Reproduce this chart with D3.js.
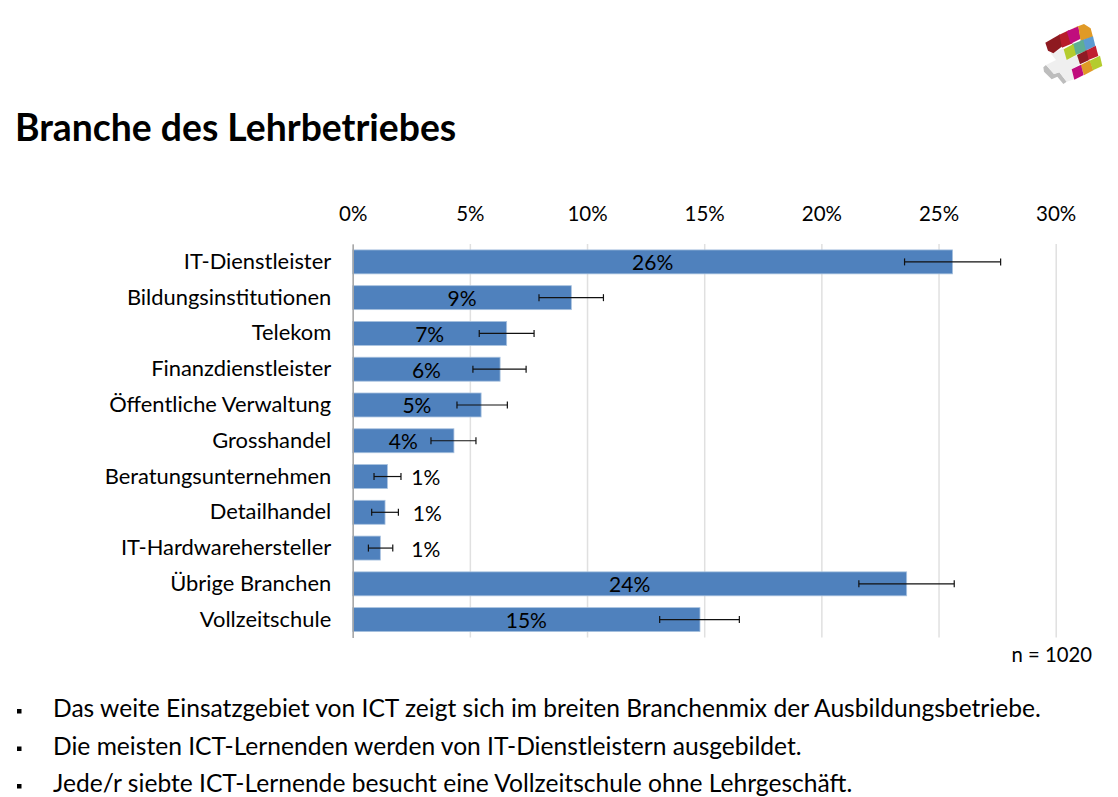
<!DOCTYPE html>
<html lang="de">

<head>
  <meta charset="UTF-8">
  <title>Branche des Lehrbetriebes</title>
  <style>
    html, body { margin: 0; padding: 0; background: #fff; }
    svg { display: block; }
    text { font-family: Lato, "Noto Sans", sans-serif; fill: #000; }
  </style>
</head>

<body>
  <div id="chart"></div>
  <script src="https://cdn.jsdelivr.net/npm/d3@7/dist/d3.min.js"></script>
  <script>
    const categories = ['IT-Dienstleister', 'Bildungsinstitutionen', 'Telekom', 'Finanzdienstleister',
      'Öffentliche Verwaltung', 'Grosshandel', 'Beratungsunternehmen', 'Detailhandel',
      'IT-Hardwarehersteller', 'Übrige Branchen', 'Vollzeitschule'];
    const shares = [25.6, 9.33, 6.57, 6.29, 5.48, 4.32, 1.48, 1.38, 1.18, 23.64, 14.82];
    const errLow = [23.55, 7.95, 5.4, 5.13, 4.45, 3.34, 0.91, 0.81, 0.67, 21.6, 13.1];
    const errHigh = [27.65, 10.7, 7.74, 7.4, 6.6, 5.26, 2.06, 1.95, 1.71, 25.67, 16.5];
    const shareLabels = ['26%', '9%', '7%', '6%', '5%', '4%', '1%', '1%', '1%', '24%', '15%'];
    // the three small bars have their label outside, value on the x axis
    const labelAt = [null, null, null, null, null, null, 3.12, 3.18, 3.12, null, null];
    const xTicks = [0, 5, 10, 15, 20, 25, 30];
    const bullets = ['Das weite Einsatzgebiet von ICT zeigt sich im breiten Branchenmix der Ausbildungsbetriebe.',
      'Die meisten ICT-Lernenden werden von IT-Dienstleistern ausgebildet.',
      'Jede/r siebte ICT-Lernende besucht eine Vollzeitschule ohne Lehrgeschäft.'];

    const svg = d3.select('#chart').append('svg').attr('width', 1118).attr('height', 797);

    const x = d3.scaleLinear().domain([0, 30]).range([352.7, 1055.7]);
    const y = d3.scaleBand().domain(categories).range([244, 637.5]).paddingInner(0.33).paddingOuter(0.165);

    // title
    svg.append('text').attr('x', 15).attr('y', 141)
      .style('font-size', '37.3px').style('font-weight', 700)
      .text('Branche des Lehrbetriebes');

    // top axis + grid
    const xAxis = svg.append('g').attr('transform', 'translate(0,244)')
      .call(d3.axisTop(x).tickValues(xTicks).tickFormat(d => d + '%').tickSize(-393.5).tickPadding(23));
    xAxis.attr('font-family', null);
    xAxis.select('.domain').remove();
    xAxis.selectAll('line').attr('stroke', '#e0e0e0').attr('stroke-width', 1.5);
    xAxis.selectAll('text').style('font-size', '20.5px');

    // bars
    svg.append('g').selectAll('rect').data(categories).join('rect')
      .attr('x', x(0))
      .attr('y', d => y(d))
      .attr('width', (d, i) => x(shares[i]) - x(0))
      .attr('height', y.bandwidth())
      .attr('fill', '#4f81bd')
      .attr('stroke', '#a9c2df')
      .attr('stroke-width', 0.8);

    // category axis on top of the bars
    const yAxis = svg.append('g').attr('transform', `translate(${x(0)},0)`)
      .call(d3.axisLeft(y).tickSize(0).tickPadding(21.5));
    yAxis.attr('font-family', null);
    yAxis.select('.domain').attr('stroke', '#a6a6a6').attr('stroke-width', 1.5);
    yAxis.selectAll('text').style('font-size', '21.9px');

    // error bars
    const err = svg.append('g').attr('stroke', '#111').attr('stroke-width', 1.2);
    categories.forEach((c, i) => {
      const cy = y(c) + y.bandwidth() / 2;
      err.append('line').attr('x1', x(errLow[i])).attr('x2', x(errHigh[i])).attr('y1', cy).attr('y2', cy);
      [errLow[i], errHigh[i]].forEach(v => {
        err.append('line').attr('x1', x(v)).attr('x2', x(v)).attr('y1', cy - 3.5).attr('y2', cy + 3.5);
      });
    });

    // value labels
    svg.append('g').selectAll('text').data(categories).join('text')
      .attr('text-anchor', 'middle')
      .attr('x', (d, i) => labelAt[i] === null ? (x(0) + x(shares[i])) / 2 : x(labelAt[i]))
      .attr('y', d => y(d) + y.bandwidth() / 2 + 8.5)
      .style('font-size', '21px')
      .text((d, i) => shareLabels[i]);

    svg.append('text').attr('x', 1092).attr('y', 662).attr('text-anchor', 'end')
      .style('font-size', '20.3px').text('n = 1020');

    // bullet list
    const list = svg.append('g');
    bullets.forEach((t, i) => {
      const by = 717 + i * 37.5;
      list.append('rect').attr('x', 17).attr('y', by - 8).attr('width', 4.5).attr('height', 4.5).attr('fill', '#000');
      list.append('text').attr('x', 53).attr('y', by).style('font-size', '24.6px').text(t);
    });

    // logo, coordinates from a 3x crop
    const logoTiles = [
      ['#8e1a20', '76,98 120,73 128,108 100,130 84,122'],
      ['#b81d2b', '118,74 148,60 158,100 126,113'],
      ['#c00d7d', '140,64 175,49 182,86 152,101'],
      ['#e09a26', '160,54 192,42 212,55 219,81 182,93 175,50'],
      ['#5c9bd1', '181,92 219,79 226,108 195,123'],
      ['#5fae94', '156,103 190,89 198,123 165,136'],
      ['#b4cc2e', '131,118 160,102 168,135 140,150'],
      ['#c01f30', '196,123 227,107 235,138 203,151'],
      ['#8f1a24', '171,135 200,121 206,151 180,163'],
      ['#e09a26', '182,165 210,151 220,181 192,196'],
      ['#b4cc2e', '209,152 240,137 247,168 219,181'],
      ['#c00d7d', '155,178 183,164 191,195 163,209']
    ];
    const logo = svg.append('g').attr('transform', 'translate(1020,10) scale(0.3333)');
    logo.append('polygon').attr('fill', '#bdbdbd').attr('points', '70,172 78,165 102,192 118,187 140,215 130,222 112,200 95,208 72,185');
    logo.append('polygon').attr('fill', '#efefef').attr('points', '92,130 132,115 140,150 172,135 180,162 155,178 163,208 140,215 118,187 102,192 78,165 108,150');
    logoTiles.forEach(t => logo.append('polygon').attr('fill', t[0]).attr('points', t[1]));
  </script>
</body>

</html>
